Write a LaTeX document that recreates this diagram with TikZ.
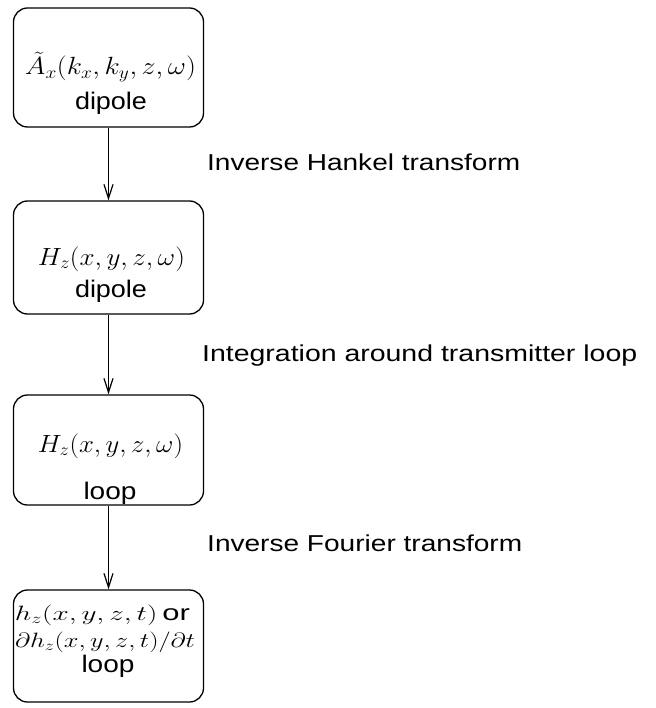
\documentclass[tikz,border=0pt]{standalone}
\usepackage{fontspec}
\setmainfont{Liberation Sans}
\usepackage{graphicx}
\usetikzlibrary{arrows.meta}
\newcommand{\wtext}[3]{\resizebox{#1}{\height}{\fontsize{#2}{#2}\selectfont #3}}
\tikzset{
  flowbox/.style={draw, line width=1.3pt, rounded corners=14pt, minimum width=190pt, inner sep=0pt},
  txt/.style={anchor=base, inner sep=0pt},
  lbl/.style={anchor=base west, inner sep=0pt},
  arr/.style={-{Straight Barb[length=14pt,width=9pt,line width=1.2pt]}, line width=1.2pt},
}
\begin{document}
\begin{tikzpicture}[x=1pt,y=-1pt]
\useasboundingbox (0,0) rectangle (655,708);
\node[flowbox, minimum height=119pt] (b1) at (108.5,67.5) {};
\node[flowbox, minimum height=113pt] (b2) at (108.5,257.5) {};
\node[flowbox, minimum height=110pt] (b3) at (108.5,450) {};
\node[flowbox, minimum height=112pt] (b4) at (108.5,646) {};

\node[txt] (t1a) at (110.5,75) {\wtext{171pt}{23}{$\tilde{A}_x(k_x,k_y,z,\omega)$}};
\node[txt] (t1b) at (111,110) {\wtext{72pt}{24}{dipole}};
\node[txt] (t2a) at (111.5,265) {\wtext{147pt}{23}{$H_z(x,y,z,\omega)$}};
\node[txt] (t2b) at (111,297) {\wtext{72pt}{24}{dipole}};
\node[txt] (t3a) at (110.5,452) {\wtext{145pt}{23}{$H_z(x,y,z,\omega)$}};
\node[txt] (t3b) at (110,499) {\wtext{53pt}{24}{loop}};
\node[txt] (t4a) at (102.5,620) {\wtext{175pt}{22}{$h_z(x,y,z,t)$\,or}};
\node[txt] (t4b) at (105,647) {\wtext{180pt}{22}{$\partial h_z(x,y,z,t)/\partial t$}};
\node[txt] (t4c) at (108,672) {\wtext{53pt}{24}{loop}};

\draw[arr] (b1.south) -- (b2.north);
\draw[arr] (b2.south) -- (b3.north);
\draw[arr] (b3.south) -- (b4.north);

\node[lbl] (l1) at (207,171) {\wtext{313pt}{23}{Inverse Hankel transform}};
\node[lbl] (l2) at (202,361) {\wtext{435pt}{23}{Integration around transmitter loop}};
\node[lbl] (l3) at (207,551) {\wtext{315pt}{23}{Inverse Fourier transform}};
\end{tikzpicture}
\end{document}
